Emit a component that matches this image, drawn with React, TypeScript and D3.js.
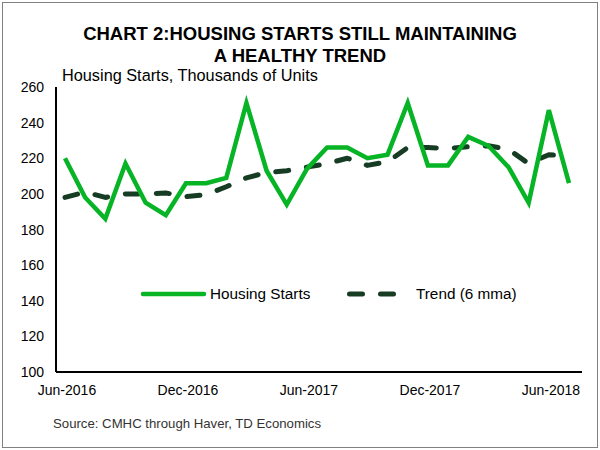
import React, { useEffect } from 'react';
import * as d3 from 'd3';

// Monthly, Jun-2016 .. Jul-2018
const months = [
  'Jun-2016', 'Jul-2016', 'Aug-2016', 'Sep-2016', 'Oct-2016', 'Nov-2016',
  'Dec-2016', 'Jan-2017', 'Feb-2017', 'Mar-2017', 'Apr-2017', 'May-2017',
  'Jun-2017', 'Jul-2017', 'Aug-2017', 'Sep-2017', 'Oct-2017', 'Nov-2017',
  'Dec-2017', 'Jan-2018', 'Feb-2018', 'Mar-2018', 'Apr-2018', 'May-2018',
  'Jun-2018', 'Jul-2018',
];
const housingStarts = [
  220, 198, 186, 217, 195, 188, 206, 206, 209, 251, 213, 194,
  214, 226, 226, 220, 222, 251, 216, 216, 232, 227, 215, 195,
  247, 206,
];
const trend = [
  198, 201, 198, 200, 200, 200.5, 198.5, 199.5, 204, 209, 212, 213,
  215, 217, 220, 216, 218, 226, 226, 225.5, 226.5, 227, 225, 217,
  222, 221,
];
const xTickLabels = ['Jun-2016', 'Dec-2016', 'Jun-2017', 'Dec-2017', 'Jun-2018'];
const yTicks = [100, 120, 140, 160, 180, 200, 220, 240, 260];

const GREEN = '#06b425';
const DARK = '#173c24';
const FONT = 'Arial, "Liberation Sans", sans-serif';

const App: React.FC = () => {
  useEffect(() => {
    document.body.style.margin = '0';
  }, []);

  const width = 600;
  const height = 450;
  const plot = { left: 56, right: 582, top: 87, bottom: 372 };

  const x = d3.scalePoint<string>().domain(months).range([65, 569]);
  const y = d3.scaleLinear().domain([100, 260]).range([plot.bottom, plot.top]);

  const line = d3.line<number>()
    .x((_, i) => x(months[i]) as number)
    .y((d) => y(d));

  return (
    <svg width={width} height={height} style={{ display: 'block', fontFamily: FONT }}>
      <rect x={0} y={0} width={width} height={height} fill="#fff" />
      <rect x={2.5} y={2.5} width={595} height={445} fill="none" stroke="#808080" strokeWidth={1} />

      <text x={300} y={40} textAnchor="middle" fontSize={18.5} fontWeight="bold" fill="#000">
        CHART 2:HOUSING STARTS STILL MAINTAINING
      </text>
      <text x={300} y={62} textAnchor="middle" fontSize={18.5} fontWeight="bold" fill="#000">
        A HEALTHY TREND
      </text>
      <text x={62} y={81} fontSize={16.3} fill="#000">Housing Starts, Thousands of Units</text>

      {yTicks.map((t) => (
        <text key={t} x={44} y={y(t) + 5} textAnchor="end" fontSize={14} fill="#000">{t}</text>
      ))}
      {xTickLabels.map((m) => (
        <text key={m} x={(x(m) as number) + 2} y={395} textAnchor="middle" fontSize={14} fill="#000">{m}</text>
      ))}

      <path d={line(trend) ?? ''} fill="none" stroke={DARK} strokeWidth={5}
        strokeDasharray="13 18" strokeLinecap="round" strokeLinejoin="round" />
      <path d={line(housingStarts) ?? ''} fill="none" stroke={GREEN} strokeWidth={4.5}
        strokeLinejoin="miter" />

      <line x1={plot.left} x2={plot.left} y1={plot.top} y2={plot.bottom} stroke="#000" strokeWidth={2} />
      <line x1={plot.left} x2={plot.right} y1={plot.bottom} y2={plot.bottom} stroke="#000" strokeWidth={2} />

      {/* Legend */}
      <line x1={143} x2={204} y1={294} y2={294} stroke={GREEN} strokeWidth={4.5} strokeLinecap="round" />
      <text x={210} y={299} fontSize={15.3} fill="#000">Housing Starts</text>
      <line x1={349.5} x2={394.5} y1={294} y2={294} stroke={DARK} strokeWidth={5}
        strokeDasharray="13 18" strokeLinecap="round" />
      <text x={416} y={299} fontSize={15.3} fill="#000">Trend (6 mma)</text>

      <text x={53} y={428} fontSize={13.2} fill="#333">Source: CMHC through Haver, TD Economics</text>
    </svg>
  );
};

export default App;
